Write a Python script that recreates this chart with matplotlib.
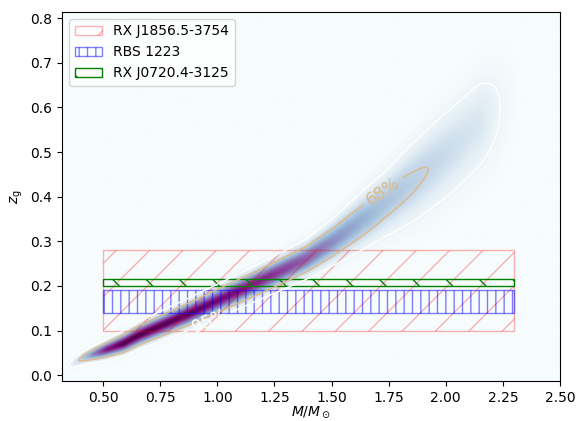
import numpy as np
import matplotlib.pyplot as plt
from matplotlib.patches import Rectangle

# crest of the posterior: mass, z_g of the crest,
# spread across the crest (in z_g) and relative peak height
ridge_m = [0.34, 0.42, 0.51, 0.59, 0.66, 0.88, 1.17, 1.39, 1.51, 1.73, 1.87, 2.02, 2.15, 2.25, 2.32]
ridge_z = [0.020, 0.040, 0.056, 0.071, 0.090, 0.138, 0.206, 0.260, 0.300, 0.382, 0.438, 0.502, 0.562, 0.602, 0.632]
ridge_width = [0.006, 0.008, 0.010, 0.012, 0.013, 0.015, 0.017, 0.020, 0.025, 0.038, 0.050, 0.058, 0.063, 0.066, 0.066]
ridge_height = [0.0, 0.35, 0.85, 1.0, 1.0, 0.97, 0.85, 0.66, 0.52, 0.33, 0.26, 0.20, 0.15, 0.04, 0.0]

# measured gravitational redshifts
sources = ["RX J1856.5-3754", "RBS 1223", "RX J0720.4-3125"]
z_low = [0.10, 0.14, 0.200]
z_high = [0.28, 0.19, 0.215]
m_range = (0.5, 2.3)

XLIM = (0.32, 2.5)
YLIM = (-0.013, 0.814)

mm, zz = np.meshgrid(np.linspace(*XLIM, 500), np.linspace(*YLIM, 500))
crest = np.interp(mm, ridge_m, ridge_z)
width = np.interp(mm, ridge_m, ridge_width)
height = np.interp(mm, ridge_m, ridge_height, left=0, right=0)
dens = height * np.exp(-0.5 * ((zz - crest) / width) ** 2)

# highest-density levels enclosing 68% and 95%
flat = np.sort(dens.ravel())[::-1]
cum = np.cumsum(flat) / flat.sum()
lev68 = flat[np.searchsorted(cum, 0.68)]
lev95 = flat[np.searchsorted(cum, 0.95)]

fig = plt.figure(figsize=(5.77, 4.21), dpi=100)
ax = fig.add_axes([0.1075, 0.095, 0.863, 0.8765])

ax.imshow(dens, origin="lower", extent=(*XLIM, *YLIM), cmap="BuPu",
          aspect="auto", interpolation="bilinear")
cs = ax.contour(mm, zz, dens, levels=[lev95, lev68],
                colors=["white", "burlywood"], linewidths=1)
ax.clabel(cs, fmt={lev95: "95%", lev68: "68%"}, fontsize=12,
          manual=[(0.97, 0.115), (1.74, 0.40)])

styles = [("red", 0.3, "/"), ("blue", 0.5, "||"), ("green", 1.0, "\\")]
for name, lo, hi, (col, alpha, hatch) in zip(sources, z_low, z_high, styles):
    ax.add_patch(Rectangle((m_range[0], lo), m_range[1] - m_range[0], hi - lo,
                           fill=False, edgecolor=col, alpha=alpha,
                           hatch=hatch, label=name))

ax.set_xlim(*XLIM)
ax.set_ylim(*YLIM)
ax.set_xlabel(r"$M/M_\odot$", labelpad=0)
ax.set_ylabel(r"$z_{\rm g}$")
ax.legend(loc="upper left")

fig.savefig("out.png", dpi=100)
